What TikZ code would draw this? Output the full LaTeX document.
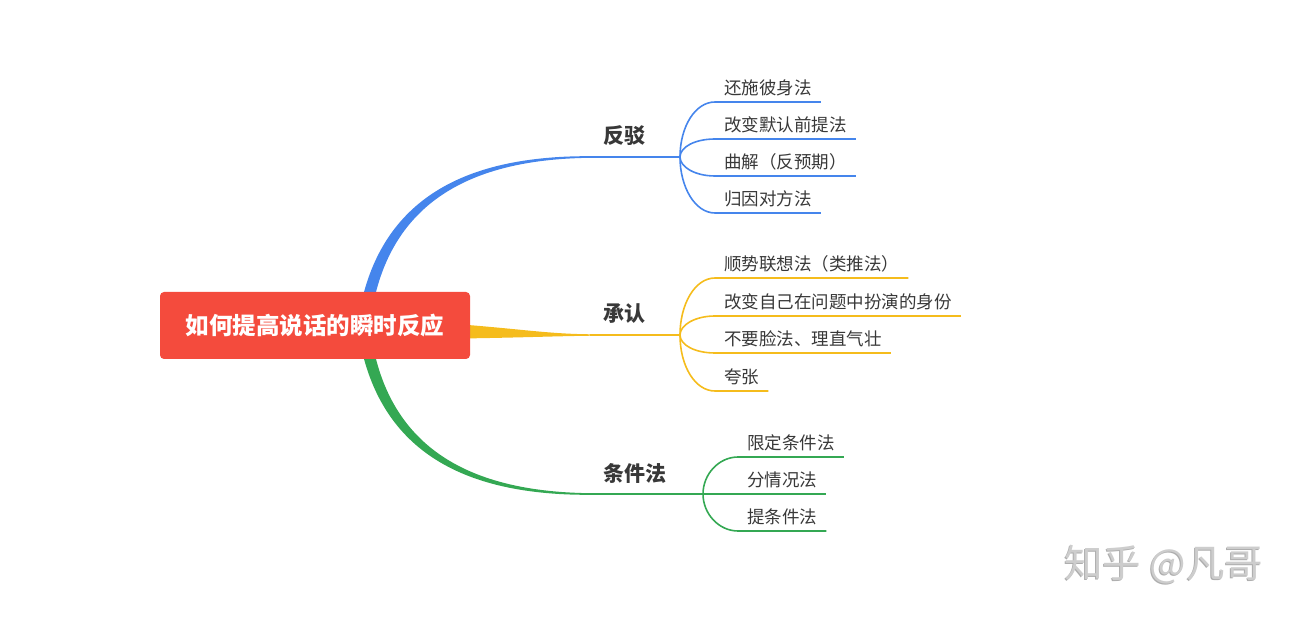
\documentclass[tikz,border=0pt]{standalone}
\usepackage{fontspec}
\setmainfont{Noto Sans CJK SC}
\definecolor{rootred}{HTML}{F44B3D}
\definecolor{cblue}{HTML}{4585EC}
\definecolor{cyellow}{HTML}{F5BC1C}
\definecolor{cgreen}{HTML}{34A853}
\definecolor{ink}{HTML}{383838}
\definecolor{markgrey}{HTML}{CDCDCD}
\definecolor{markshade}{HTML}{ADADAD}
\begin{document}
\begin{tikzpicture}[x=1pt,y=-1pt,
  root/.style={fill=rootred, rounded corners=4pt, text=white,
    font=\fontsize{23.5}{26}\selectfont\bfseries,
    minimum width=310pt, minimum height=67pt, inner sep=0},
  topic/.style={text=ink, font=\fontsize{21}{24}\selectfont\bfseries, inner sep=0},
  leaf/.style={anchor=south west, text=ink, font=\fontsize{17.5}{20}\selectfont,
    inner xsep=9pt, inner ysep=4.5pt, text height=13pt, text depth=3pt},
  twig/.style={line width=1.6pt},
  stem/.style={line width=2pt},
  signature/.style={font=\fontsize{38.5}{42}\selectfont, anchor=west, inner sep=0},
]
\useasboundingbox (0,0) rectangle (1298,617);

% tapered main branches (drawn beneath the root box)
\fill[cblue] (364,292) .. controls (392,190) and (478,155.3) .. (592,156.2)
  -- (592,157.8) .. controls (481,158.7) and (401,195) .. (376,292) -- cycle;
\fill[cgreen] (364,359) .. controls (392,461) and (478,495.7) .. (592,494.8)
  -- (592,493.2) .. controls (481,492.3) and (401,456) .. (376,359) -- cycle;
\fill[cyellow] (462,324.5) .. controls (525,329.5) and (550,334) .. (592,334.3)
  -- (592,335.7) .. controls (550,336.3) and (525,337.5) .. (462,338.5) -- cycle;

% root
\node[root] (root) at (315,325.5) {如何提高说话的瞬时反应};

% branch stems and split points
\coordinate (bstart) at (590,157);
\coordinate (bsplit) at (680,157);
\coordinate (ystart) at (590,335);
\coordinate (ysplit) at (680,335);
\coordinate (gstart) at (590,494);
\coordinate (gsplit) at (703,494);
\draw[stem,cblue] (bstart) -- (bsplit);
\draw[stem,cyellow] (ystart) -- (ysplit);
\draw[stem,cgreen] (gstart) -- (gsplit);

% topic labels
\node[topic] (fb) at (624,136) {反驳};
\node[topic] (cr) at (624,314) {承认};
\node[topic] (tj) at (635,473.5) {条件法};

% 反驳
\node[leaf] (b1) at (715,102) {还施彼身法};
\node[leaf] (b2) at (715,139) {改变默认前提法};
\node[leaf] (b3) at (715,176) {曲解（反预期）};
\node[leaf] (b4) at (715,213) {归因对方法};
\begin{scope}[twig,cblue]
\draw (bsplit) .. controls +(0,-30) and +(-20,0) .. (b1.south west) -- (b1.south east);
\draw (bsplit) .. controls +(0,-10) and +(-20,0) .. (b2.south west) -- (b2.south east);
\draw (bsplit) .. controls +(0,10) and +(-20,0) .. (b3.south west) -- (b3.south east);
\draw (bsplit) .. controls +(0,30) and +(-20,0) .. (b4.south west) -- (b4.south east);
\end{scope}

% 承认
\node[leaf] (y1) at (715,278) {顺势联想法（类推法）};
\node[leaf] (y2) at (715,316) {改变自己在问题中扮演的身份};
\node[leaf] (y3) at (715,353) {不要脸法、理直气壮};
\node[leaf] (y4) at (715,391) {夸张};
\begin{scope}[twig,cyellow]
\draw (ysplit) .. controls +(0,-31) and +(-20,0) .. (y1.south west) -- (y1.south east);
\draw (ysplit) .. controls +(0,-10) and +(-20,0) .. (y2.south west) -- (y2.south east);
\draw (ysplit) .. controls +(0,10) and +(-20,0) .. (y3.south west) -- (y3.south east);
\draw (ysplit) .. controls +(0,31) and +(-20,0) .. (y4.south west) -- (y4.south east);
\end{scope}

% 条件法
\node[leaf] (g1) at (738,457) {限定条件法};
\node[leaf] (g2) at (738,494) {分情况法};
\node[leaf] (g3) at (738,531) {提条件法};
\begin{scope}[twig,cgreen]
\draw (gsplit) .. controls +(0,-20) and +(-19,0) .. (g1.south west) -- (g1.south east);
\draw (gsplit) -- (g2.south west) -- (g2.south east);
\draw (gsplit) .. controls +(0,20) and +(-19,0) .. (g3.south west) -- (g3.south east);
\end{scope}

% watermark
\node[signature, text=markshade] (wms) at (1062.8,565.8) {知乎 @凡哥};
\node[signature, text=markgrey] (wm) at (1064,565) {知乎 @凡哥};
\end{tikzpicture}
\end{document}
